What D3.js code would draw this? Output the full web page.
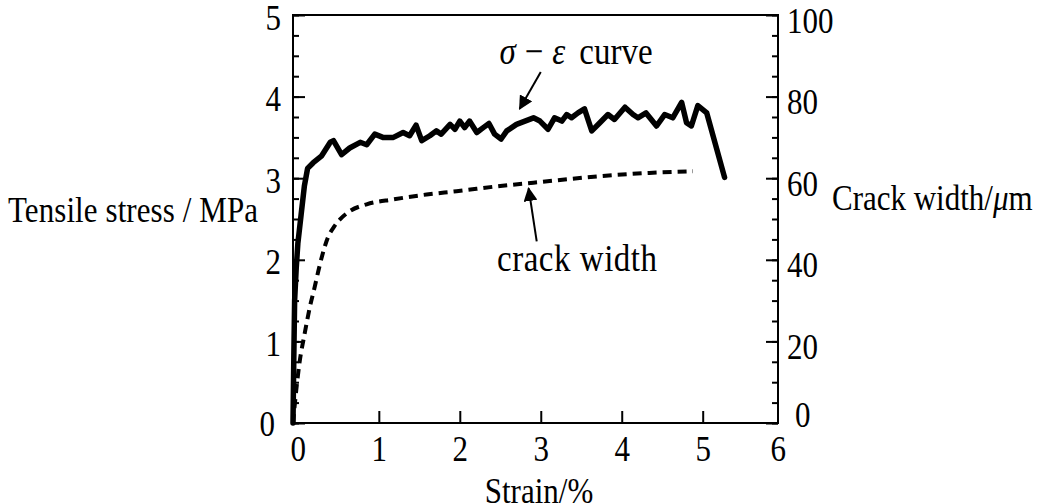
<!DOCTYPE html>
<html>
<head>
<meta charset="utf-8">
<script src="https://cdn.jsdelivr.net/npm/d3@7"></script>
<style>
  body { margin: 0; background: #fff; }
  svg text { font-family: "Liberation Serif", "Times New Roman", serif; font-size: 31px; fill: #000;
             transform-box: fill-box; transform-origin: center; transform: scaleY(1.15); }
  .domain { display: none; }
</style>
</head>
<body>
<div id="chart"></div>
<script>
// stress-strain curve (left axis, MPa)
const stressStrain = [-0.06,-0.05,-0.04,-0.02,0.0,0.04,0.08,0.12,0.19,0.29,0.40,0.44,0.54,0.64,0.77,0.85,0.95,1.05,1.18,1.30,1.38,1.46,1.53,1.63,1.71,1.77,1.88,1.94,2.00,2.06,2.12,2.21,2.29,2.36,2.43,2.51,2.58,2.70,2.91,2.99,3.09,3.17,3.26,3.32,3.38,3.46,3.54,3.63,3.73,3.83,3.91,4.04,4.14,4.20,4.30,4.43,4.53,4.63,4.74,4.80,4.86,4.94,5.05,5.27];
const stressValues = [0,0.8,1.5,1.9,2.2,2.55,2.9,3.12,3.19,3.27,3.44,3.46,3.29,3.37,3.44,3.41,3.54,3.50,3.50,3.56,3.52,3.65,3.46,3.52,3.58,3.54,3.66,3.60,3.70,3.62,3.70,3.56,3.62,3.67,3.54,3.48,3.58,3.66,3.74,3.70,3.60,3.74,3.70,3.78,3.74,3.80,3.85,3.58,3.68,3.78,3.72,3.87,3.78,3.74,3.80,3.64,3.78,3.74,3.93,3.68,3.64,3.89,3.80,3.01];

// crack width curve (right axis, um)
const crackStrain = [-0.06,-0.02,0.02,0.085,0.15,0.21,0.25,0.30,0.37,0.45,0.52,0.64,0.85,1.18,1.59,1.96,2.50,2.91,3.73,4.34,4.88];
const crackValues = [0,8,14.7,22,28.6,33.5,37,41,45.4,48.2,49.9,51.9,53.6,54.8,56,56.8,58.1,58.9,60.5,61.3,61.7];

// tick labels
const xTicks = [0,1,2,3,4,5,6];
const leftTicks = [0,1,2,3,4,5];
const rightTicks = [0,20,40,60,80,100];

const width = 1044, height = 503;
const plotLeft = 293, plotRight = 778, plotTop = 15, plotBottom = 423;

const svg = d3.select("#chart").append("svg")
    .attr("width", width)
    .attr("height", height);

const x = d3.scaleLinear().domain([-0.06, 5.93]).range([plotLeft, plotRight]);
const yL = d3.scaleLinear().domain([0, 5]).range([plotBottom, plotTop]);
const yR = d3.scaleLinear().domain([0, 100]).range([plotBottom, plotTop]);
const fmt = d3.format("d");

// frame
svg.append("rect")
    .attr("x", plotLeft).attr("y", plotTop)
    .attr("width", plotRight - plotLeft).attr("height", plotBottom - plotTop)
    .attr("fill", "none").attr("stroke", "#000").attr("stroke-width", 2);

// left axis: major + minor ticks pointing inward
svg.append("g")
    .attr("transform", `translate(${plotLeft},0)`)
    .call(d3.axisLeft(yL).tickValues(leftTicks).tickFormat(fmt).tickSizeInner(-12).tickSizeOuter(0).tickPadding(12))
    .call(g => g.selectAll("line").attr("stroke-width", 2))
    .call(g => g.selectAll("text").attr("font-size", null).attr("font-family", null)
        .attr("x", d => d === 0 ? -18 : -12)
        .attr("dy", d => d === 0 ? "0.35em" : "0.4em"));
svg.append("g")
    .attr("transform", `translate(${plotLeft},0)`)
    .call(d3.axisLeft(yL).tickValues(d3.range(0, 5.01, 0.25)).tickSizeInner(-6).tickSizeOuter(0).tickFormat(""))
    .call(g => g.selectAll("line").attr("stroke-width", 2));

// right axis
svg.append("g")
    .attr("transform", `translate(${plotRight},0)`)
    .call(d3.axisRight(yR).tickValues(rightTicks).tickFormat(fmt).tickSizeInner(-12).tickSizeOuter(0).tickPadding(9))
    .call(g => g.selectAll("line").attr("stroke-width", 2))
    .call(g => g.selectAll("text").attr("font-size", null).attr("font-family", null)
        .attr("x", d => d === 0 ? 17 : 9)
        .attr("dy", d => d === 0 ? "0.05em" : "0.5em"));
svg.append("g")
    .attr("transform", `translate(${plotRight},0)`)
    .call(d3.axisRight(yR).tickValues(d3.range(0, 100.1, 5)).tickSizeInner(-6).tickSizeOuter(0).tickFormat(""))
    .call(g => g.selectAll("line").attr("stroke-width", 2));

// bottom axis, ticks pointing up
svg.append("g")
    .attr("transform", `translate(0,${plotBottom})`)
    .call(d3.axisBottom(x).tickValues(xTicks).tickFormat(fmt).tickSizeInner(-12).tickSizeOuter(0).tickPadding(14))
    .call(g => g.selectAll("line").attr("stroke-width", 2))
    .call(g => g.selectAll(".tick").filter(d => d === 0 || d === 6).select("line").remove())
    .call(g => g.selectAll("text").attr("font-size", null).attr("font-family", null)
        .attr("x", d => d === 6 ? -6 : 0)
        .attr("dy", "0.71em"));

// curves
const stressData = stressStrain.map((s, i) => [s, stressValues[i]]);
const crackData = crackStrain.map((s, i) => [s, crackValues[i]]);

svg.append("path")
    .datum(crackData)
    .attr("fill", "none")
    .attr("stroke", "#000")
    .attr("stroke-width", 4)
    .attr("stroke-dasharray", "9,6")
    .attr("d", d3.line().x(d => x(d[0])).y(d => yR(d[1])).curve(d3.curveMonotoneX));

svg.append("path")
    .datum(stressData)
    .attr("fill", "none")
    .attr("stroke", "#000")
    .attr("stroke-width", 5.5)
    .attr("stroke-linejoin", "round")
    .attr("stroke-linecap", "round")
    .attr("d", d3.line().x(d => x(d[0])).y(d => yL(d[1])));

// axis titles
svg.append("text")
    .attr("x", 8).attr("y", 220)
    .attr("textLength", 250)
    .text("Tensile stress / MPa");

const rt = svg.append("text").attr("x", 832).attr("y", 208);
rt.append("tspan").text("Crack width/");
rt.append("tspan").attr("font-style", "italic").text("\u03bc");
rt.append("tspan").text("m");

svg.append("text")
    .attr("x", 539).attr("y", 501)
    .attr("text-anchor", "middle")
    .text("Strain/%");

// annotations with arrows
const defs = svg.append("defs");
defs.append("marker")
    .attr("id", "arrow")
    .attr("viewBox", "0 0 10 10")
    .attr("refX", 9).attr("refY", 5)
    .attr("markerWidth", 7).attr("markerHeight", 7)
    .attr("markerUnits", "strokeWidth")
    .attr("orient", "auto")
  .append("path")
    .attr("d", "M0,0 L10,5 L0,10 z")
    .attr("fill", "#000");

const sigmaLabel = svg.append("text").attr("x", x(2.49)).attr("y", yL(4.42))
    .style("font-size", "33px");
sigmaLabel.append("tspan").attr("font-style", "italic").text("\u03c3");
sigmaLabel.append("tspan").attr("dx", 9).text("\u2212");
sigmaLabel.append("tspan").attr("dx", 9).attr("font-style", "italic").text("\u03b5");
sigmaLabel.append("tspan").attr("dx", 14).text("curve");

svg.append("line")
    .attr("x1", x(3.0)).attr("y1", yL(4.30))
    .attr("x2", x(2.74)).attr("y2", yL(3.85))
    .attr("stroke", "#000").attr("stroke-width", 2)
    .attr("marker-end", "url(#arrow)");

svg.append("text")
    .attr("x", x(2.46)).attr("y", yR(37.6))
    .style("font-size", "33px")
    .attr("textLength", 160)
    .text("crack width");

svg.append("line")
    .attr("x1", x(2.95)).attr("y1", yR(44.5))
    .attr("x2", x(2.85)).attr("y2", yR(57.5))
    .attr("stroke", "#000").attr("stroke-width", 2)
    .attr("marker-end", "url(#arrow)");
</script>
</body>
</html>
